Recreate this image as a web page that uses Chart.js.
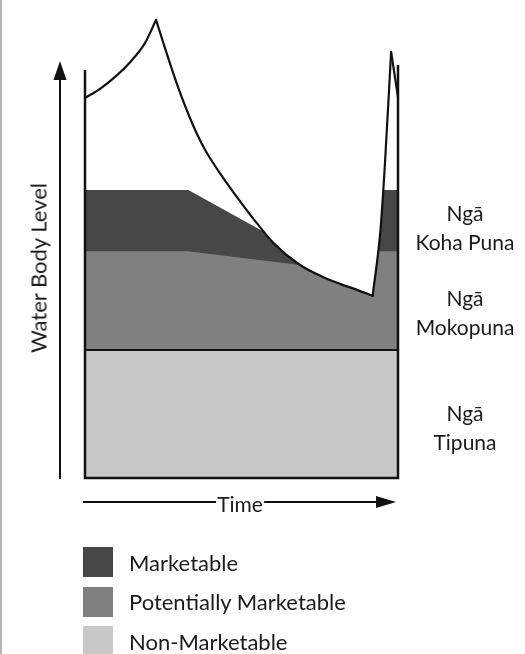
<!DOCTYPE html>
<html>
<head>
<meta charset="utf-8">
<script src="https://cdn.jsdelivr.net/npm/chart.js@4.4.1/dist/chart.umd.min.js"></script>
<style>
    html, body { margin: 0; padding: 0; background: #fff; }
    body { width: 525px; height: 654px; position: relative; overflow: hidden;
           font-family: Lato, "Open Sans", sans-serif; color: #1a1a1a; }
    #wrap { position: absolute; left: 0; top: 0; width: 525px; height: 654px; }
    #edge { position: absolute; left: 0; top: 0; width: 2px; height: 654px; background: #b4b4b4; }
    #yTitle { position: absolute; left: 38px; top: 268px; font-size: 22px; white-space: nowrap;
              transform: translate(-50%, -50%) rotate(-90deg); }
    #xTitle { position: absolute; left: 240px; top: 503px; font-size: 21px; line-height: 1;
              transform: translate(-50%, -50%); background: #fff; padding: 0 1px; }
    .zone { position: absolute; left: 410px; width: 110px; text-align: center;
            font-size: 21px; line-height: 29px; }
    #legend { position: absolute; left: 83px; top: 547px; }
    .item { display: flex; align-items: center; height: 30px; margin-bottom: 9.5px; font-size: 22px; }
    .box { width: 30px; height: 30px; margin-right: 16px; }
</style>
</head>
<body>
<div id="wrap"><canvas id="chart" width="525" height="654"></canvas></div>
<div id="edge"></div>
<div id="yTitle">Water Body Level</div>
<div id="xTitle">Time</div>
<div class="zone" style="top:198px">Ngā<br>Koha Puna</div>
<div class="zone" style="top:283px">Ngā<br>Mokopuna</div>
<div class="zone" style="top:398px">Ngā<br>Tipuna</div>
<div id="legend"></div>
<script>
(function () {
    "use strict";

    // Water body level over time (x: 0-100 time, y: 0-100 level)
    const levelTime = [0, 4.8, 9.6, 14.4, 19.2, 22.7, 26.1, 29.3, 32.5, 35.7, 38.9, 44.2, 49.5, 54.9, 60.2, 68.7, 76.0, 81.5, 86.9, 91.9, 94.4, 95.8, 97.8, 100];
    const levelValue = [82.6, 84.6, 87.2, 90.4, 94.6, 99.6, 92.3, 85.8, 80.0, 74.9, 70.7, 65.2, 60.2, 55.4, 51.1, 46.3, 43.7, 42.2, 40.9, 39.6, 53.9, 68.0, 92.6, 82.8];
    // indices where the level turns sharply (peak, trough, peak)
    const turns = [0, 5, 19, 22, 23];

    // Top of each value band
    const nonTime = [0, 100];
    const nonTop = [27.8, 27.8];

    const potTime = [0, 32.9, 68.7, 76.0, 81.5, 86.9, 91.9, 93.8, 100];
    const potTop = [49.3, 49.3, 46.3, 43.7, 42.2, 40.9, 39.6, 49.3, 49.3];

    const mktTime = [0, 33.0, 57.0, 60.2, 68.7, 76.0, 81.5, 86.9, 91.9, 93.8, 95.2, 100];
    const mktTop = [62.6, 62.6, 53.6, 51.1, 46.3, 43.7, 42.2, 40.9, 39.6, 49.3, 62.6, 62.6];

    // Frame line heights at the two ends
    const frameTopLeft = 88.7;
    const frameTopRight = 89.8;

    const pts = (xs, ys) => xs.map((x, i) => ({ x: x, y: ys[i] }));

    const frame = {
        id: "frame",
        afterDatasetsDraw(chart) {
            const ctx = chart.ctx;
            const x = chart.scales.x, y = chart.scales.y;
            ctx.save();
            ctx.strokeStyle = "#111";
            ctx.lineWidth = 2.5;
            ctx.beginPath();
            ctx.moveTo(x.getPixelForValue(0), y.getPixelForValue(frameTopLeft));
            ctx.lineTo(x.getPixelForValue(0), y.getPixelForValue(0));
            ctx.lineTo(x.getPixelForValue(100), y.getPixelForValue(0));
            ctx.lineTo(x.getPixelForValue(100), y.getPixelForValue(frameTopRight));
            ctx.stroke();
            ctx.restore();
        },
        afterDraw(chart) {
            const ctx = chart.ctx;
            ctx.save();
            ctx.strokeStyle = "#111";
            ctx.fillStyle = "#111";
            ctx.lineWidth = 2;
            // vertical arrow
            ctx.beginPath();
            ctx.moveTo(60, 479);
            ctx.lineTo(60, 75);
            ctx.stroke();
            ctx.beginPath();
            ctx.moveTo(60, 61);
            ctx.lineTo(53.5, 80);
            ctx.lineTo(66.5, 80);
            ctx.closePath();
            ctx.fill();
            // horizontal arrow
            ctx.beginPath();
            ctx.moveTo(83, 502);
            ctx.lineTo(382, 502);
            ctx.stroke();
            ctx.beginPath();
            ctx.moveTo(396, 502);
            ctx.lineTo(376, 496);
            ctx.lineTo(376, 508);
            ctx.closePath();
            ctx.fill();
            ctx.restore();
        },
    };

    // the water line, one smooth piece between each pair of turns
    const levelPoints = pts(levelTime, levelValue);
    const waterPieces = [];
    for (let k = 0; k < turns.length - 1; k++) {
        waterPieces.push({
            label: "Water level",
            data: levelPoints.slice(turns[k], turns[k + 1] + 1),
            borderColor: "#111",
            borderWidth: 2.2,
            borderCapStyle: "round",
            cubicInterpolationMode: "monotone",
            pointRadius: 0,
            fill: false,
            clip: false,
        });
    }

    const bands = [
        {
            label: "Non-Marketable",
            data: pts(nonTime, nonTop),
            borderColor: "#111",
            borderWidth: 2,
            backgroundColor: "#c8c8c8",
            pointRadius: 0,
            fill: "origin",
        },
        {
            label: "Potentially Marketable",
            data: pts(potTime, potTop),
            borderWidth: 0,
            borderColor: "#808080",
            backgroundColor: "#808080",
            pointRadius: 0,
            fill: "origin",
        },
        {
            label: "Marketable",
            data: pts(mktTime, mktTop),
            borderWidth: 0,
            borderColor: "#474747",
            backgroundColor: "#474747",
            pointRadius: 0,
            fill: "origin",
        },
    ];

    const chart = new Chart(document.getElementById("chart"), {
        type: "line",
        data: {
            datasets: waterPieces.concat(bands),
        },
        options: {
            responsive: false,
            animation: false,
            layout: {
                padding: { left: 85, right: 127, top: 18, bottom: 176 },
            },
            plugins: {
                legend: { display: false },
                tooltip: { enabled: false },
            },
            scales: {
                x: { type: "linear", min: 0, max: 100, display: false },
                y: { type: "linear", min: 0, max: 100, display: false },
            },
        },
        plugins: [frame],
    });

    // Legend below the chart: Marketable, Potentially, Non
    const legend = document.getElementById("legend");
    bands.slice().reverse().forEach((ds) => {
        const row = document.createElement("div");
        row.className = "item";
        const box = document.createElement("div");
        box.className = "box";
        box.style.background = ds.backgroundColor;
        row.appendChild(box);
        row.appendChild(document.createTextNode(ds.label));
        legend.appendChild(row);
    });
})();
</script>
</body>
</html>
